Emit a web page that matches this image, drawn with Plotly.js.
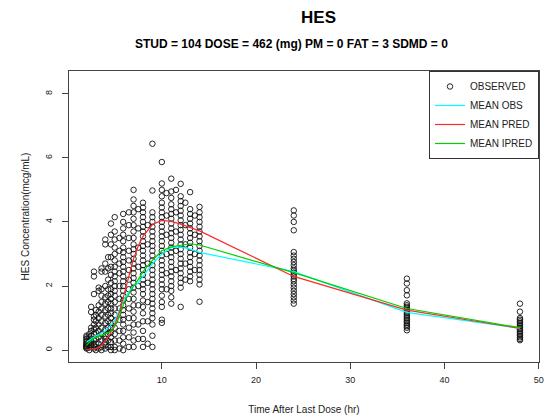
<!DOCTYPE html>
<html>
<head>
<meta charset="utf-8">
<script src="https://cdn.plot.ly/plotly-3.0.1.min.js"></script>
<style>html,body{margin:0;padding:0;background:#fff;}#chart{width:548px;height:420px;}</style>
</head>
<body>
<div id="chart"></div>
<script>
// Observed concentrations grouped by actual sampling time (hr)
var obsTime = [2.0, 2.3, 2.5, 2.8, 3.0, 3.3, 3.6, 4.0, 4.3, 4.6, 5.0, 5.5, 5.9, 6.5, 7.0, 7.5, 8.0, 8.5, 9.0, 10.0, 10.5, 11.0, 11.5, 12.0, 12.5, 13.0, 13.5, 14.0, 24.0, 36.0, 48.0];
var obsConc = [
  [0.05, 0.1, 0.15, 0.2, 0.25, 0.3, 0.35, 0.08, 0.12, 0.18, 0.4, 0.45],
  [0.0, 0.08, 0.15, 0.22, 0.3, 0.4, 0.5],
  [1.19, 1.35, 0.1, 0.2, 0.3, 0.45, 0.6, 0.7],
  [2.3, 2.45, 1.75, 0.05, 0.15, 0.3, 0.5, 0.65, 0.8, 0.95, 1.05],
  [0.0, 0.1, 0.2, 0.35, 0.55, 0.7, 0.9, 1.1, 1.25],
  [1.85, 1.95, 0.05, 0.2, 0.4, 0.6, 0.8, 1.0, 1.2, 1.4],
  [2.45, 2.55, 1.9, 0.0, 0.1, 0.3, 0.5, 0.7, 0.9, 1.1, 1.3, 1.5, 1.7],
  [3.3, 3.45, 2.7, 2.45, 2.0, 0.05, 0.25, 0.45, 0.65, 0.85, 1.05, 1.25, 1.45, 1.65, 0.15, 0.35],
  [2.9, 2.55, 2.2, 1.9, 1.7, 1.5, 1.3, 1.1, 0.9, 0.7, 0.5, 0.3, 0.1],
  [3.95, 3.6, 3.3, 2.9, 2.6, 2.35, 2.1, 1.9, 1.75, 1.6, 1.45, 1.3, 1.15, 1.0, 0.85, 0.7, 0.55, 0.4, 0.25, 0.1, 0.0],
  [4.15, 3.7, 3.45, 3.2, 3.0, 2.8, 2.6, 2.45, 2.3, 2.15, 2.0, 1.85, 1.7, 1.5, 1.3, 1.1, 0.9, 0.7, 0.5, 0.3, 0.1, 0.0],
  [3.5, 3.1, 2.7, 2.4, 2.0, 1.6, 1.3, 0.95, 0.6, 0.3, 0.05],
  [4.25, 4.0, 3.8, 3.6, 3.4, 3.2, 3.05, 2.9, 2.75, 2.6, 2.45, 2.3, 2.15, 2.0, 1.85, 1.7, 1.55, 1.4, 1.25, 1.1, 0.95, 0.8, 0.6, 0.4, 0.2, 0.0],
  [4.3, 3.9, 3.5, 3.1, 2.8, 2.5, 2.2, 1.9, 1.6, 1.3, 1.0, 0.7, 0.4, 0.1],
  [5.0, 4.7, 4.5, 4.3, 4.1, 3.9, 3.7, 3.5, 3.3, 3.15, 3.0, 2.85, 2.7, 2.55, 2.4, 2.25, 2.1, 1.95, 1.8, 1.6, 1.4, 1.2, 1.0, 0.8, 0.55, 0.3, 0.1],
  [4.4, 3.8, 3.2, 2.6, 2.0, 1.4, 0.8, 0.35],
  [4.6, 4.45, 4.3, 4.15, 4.0, 3.85, 3.7, 3.55, 3.4, 3.25, 3.1, 2.95, 2.8, 2.65, 2.5, 2.35, 2.2, 2.05, 1.9, 1.75, 1.55, 1.35, 1.15, 0.9, 0.6, 0.35, 0.1],
  [3.9, 3.3, 2.7, 2.1, 1.5, 0.9, 0.2],
  [6.44, 4.98, 4.3, 4.15, 4.0, 3.85, 3.7, 3.55, 3.4, 3.25, 3.1, 2.95, 2.8, 2.65, 2.5, 2.35, 2.2, 2.05, 1.9, 1.75, 1.6, 1.45, 1.3, 1.15, 1.0, 0.8, 0.45, 0.1],
  [5.87, 5.2, 5.0, 4.8, 4.6, 4.45, 4.3, 4.15, 4.0, 3.85, 3.7, 3.55, 3.4, 3.25, 3.1, 2.95, 2.8, 2.65, 2.5, 2.35, 2.2, 2.05, 1.9, 1.7, 1.5, 1.35, 0.95, 0.85],
  [4.9, 4.2, 3.6, 3.0, 2.4, 1.9],
  [5.35, 4.95, 4.75, 4.55, 4.4, 4.25, 4.1, 3.95, 3.8, 3.65, 3.5, 3.35, 3.2, 3.05, 2.9, 2.75, 2.6, 2.45, 2.3, 2.15, 2.0, 1.85, 1.65, 1.45],
  [5.0, 4.3, 3.7, 3.1, 2.5],
  [5.19, 4.8, 4.65, 4.5, 4.35, 4.2, 4.05, 3.9, 3.75, 3.6, 3.45, 3.3, 3.15, 3.0, 2.85, 2.7, 2.55, 2.4, 2.25, 2.1, 1.95, 1.35],
  [4.6, 3.9, 3.3, 2.7, 2.2],
  [4.93, 4.4, 4.25, 4.1, 3.95, 3.8, 3.65, 3.5, 3.35, 3.2, 3.05, 2.9, 2.75, 2.6, 2.45, 2.3, 2.15],
  [4.2, 3.6, 3.0, 2.5],
  [4.47, 4.3, 4.15, 4.0, 3.85, 3.7, 3.55, 3.4, 3.25, 3.1, 2.95, 2.8, 2.65, 2.5, 2.35, 2.2, 2.05, 1.51],
  [4.36, 4.2, 4.0, 3.74, 3.06, 2.95, 2.85, 2.75, 2.65, 2.55, 2.48, 2.42, 2.36, 2.3, 2.22, 2.15, 2.05, 1.95, 1.85, 1.75, 1.65, 1.55, 1.45],
  [2.23, 2.08, 1.87, 1.71, 1.46, 1.4, 1.35, 1.3, 1.25, 1.2, 1.15, 1.1, 1.05, 1.0, 0.95, 0.9, 0.85, 0.8, 0.75, 0.7, 0.62],
  [1.45, 1.2, 1.0, 0.95, 0.9, 0.85, 0.8, 0.75, 0.7, 0.65, 0.6, 0.55, 0.5, 0.45, 0.4, 0.35, 0.31]
];

// Mean curves at nominal times
var meanTime  = [2, 2.5, 3, 3.5, 4, 4.5, 5, 5.5, 6, 6.5, 7, 7.5, 8, 9, 10, 11, 12, 13, 14, 24, 36, 48];
var meanObs   = [0.25, 0.35, 0.45, 0.52, 0.6, 0.75, 0.92, 1.25, 1.6, 1.82, 2.0, 2.1, 2.3, 2.7, 3.0, 3.2, 3.22, 3.15, 3.05, 2.45, 1.18, 0.68];
var meanPred  = [0.02, 0.03, 0.05, 0.12, 0.28, 0.5, 0.8, 1.18, 1.7, 2.3, 2.85, 3.25, 3.55, 3.92, 4.05, 4.02, 3.93, 3.82, 3.72, 2.3, 1.25, 0.68];
var meanIpred = [0.15, 0.3, 0.4, 0.45, 0.5, 0.57, 0.73, 1.05, 1.5, 1.75, 2.0, 2.2, 2.45, 2.8, 3.1, 3.22, 3.26, 3.32, 3.28, 2.42, 1.3, 0.7];

var xTicks = [10, 20, 30, 40, 50];
var yTicks = [0, 2, 4, 6, 8];

var ox = [], oy = [];
obsTime.forEach(function (t, i) {
  obsConc[i].forEach(function (v) { ox.push(t); oy.push(v); });
});

var FONT = 'Liberation Sans, Arial, sans-serif';
var traces = [
  {x: ox, y: oy, type: 'scatter', mode: 'markers', name: 'OBSERVED',
   marker: {symbol: 'circle-open', size: 5.5, color: '#111', line: {width: 0.9, color: '#111'}}},
  {x: meanTime, y: meanObs, type: 'scatter', mode: 'lines', name: 'MEAN OBS',
   line: {color: '#00ffff', width: 1.2}},
  {x: meanTime, y: meanPred, type: 'scatter', mode: 'lines', name: 'MEAN PRED',
   line: {color: '#ff2a2a', width: 1.2}},
  {x: meanTime, y: meanIpred, type: 'scatter', mode: 'lines', name: 'MEAN IPRED',
   line: {color: '#00d000', width: 1.2}}
];

var layout = {
  width: 548, height: 420,
  margin: {l: 69, r: 9, t: 71, b: 58},
  paper_bgcolor: '#fff', plot_bgcolor: '#fff',
  font: {family: FONT, color: '#222', size: 9},
  showlegend: true,
  title: {text: '<b>HES</b>', font: {family: FONT, size: 17, color: '#000'},
          x: 291 / 548, xanchor: 'center', xref: 'paper', y: 1 - 17 / 420, yanchor: 'middle', yref: 'container'},
  annotations: [
    {text: '<b>STUD = 104 DOSE = 462 (mg) PM = 0 FAT = 3 SDMD = 0</b>', xref: 'paper', yref: 'paper',
     x: (291 - 69) / 470, y: (362 - 44) / 291, xanchor: 'center', yanchor: 'middle', showarrow: false,
     font: {family: FONT, size: 12, color: '#000'}}
  ],
  xaxis: {
    range: [0.15, 50.02], tickmode: 'array', tickvals: xTicks, ticktext: xTicks.map(String),
    ticks: 'outside', ticklen: 6, tickcolor: '#444', tickwidth: 1,
    ticklabelstandoff: 3,
    showline: true, mirror: true, linecolor: '#444', linewidth: 1,
    showgrid: false, zeroline: false,
    tickfont: {size: 9, color: '#222'},
    title: {text: 'Time After Last Dose (hr)', font: {size: 10, color: '#222'}, standoff: 22}
  },
  yaxis: {
    range: [-0.37, 8.71], tickmode: 'array', tickvals: yTicks, ticktext: yTicks.map(String),
    ticks: 'outside', ticklen: 6, tickcolor: '#444', tickwidth: 1, tickangle: -90,
    ticklabelstandoff: 6,
    showline: true, mirror: true, linecolor: '#444', linewidth: 1,
    showgrid: false, zeroline: false,
    tickfont: {size: 9, color: '#222'},
    title: {text: 'HES Concentration(mcg/mL)', font: {size: 10, color: '#222'}, standoff: 12}
  },
  legend: {x: 1, xanchor: 'right', y: 1, yanchor: 'top', bgcolor: '#fff',
           bordercolor: '#333', borderwidth: 1, font: {size: 10, color: '#222', family: FONT},
           itemwidth: 30, tracegroupgap: 0}
};

Plotly.newPlot('chart', traces, layout, {displayModeBar: false, staticPlot: true});
</script>
</body>
</html>
